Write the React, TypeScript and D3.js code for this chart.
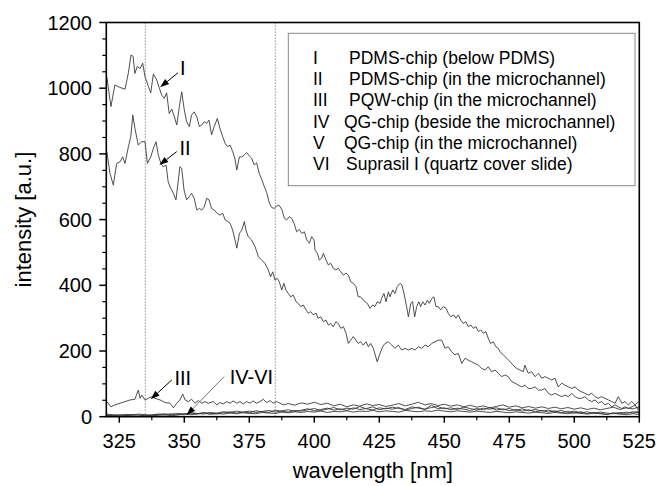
import React from "react";
import * as d3 from "d3";

// ---------- data ----------
const xTickLabels = ["325", "350", "375", "400", "425", "450", "475", "500", "525"];
const xTickValues = [325, 350, 375, 400, 425, 450, 475, 500, 525];
const xMinorValues = [337.5, 362.5, 387.5, 412.5, 437.5, 462.5, 487.5, 512.5];
const yTickValues = [0, 200, 400, 600, 800, 1000, 1200];
const yTickLabels = ["0", "200", "400", "600", "800", "1000", "1200"];
const yMinorValues = [50, 100, 150, 250, 300, 350, 450, 500, 550, 650, 700, 750, 850, 900, 950, 1050, 1100, 1150];
const markerLines = [335, 385];

const legendNumerals = ["I", "II", "III", "IV", "V", "VI"];
const legendTexts = [
  "PDMS-chip (below PDMS)",
  "PDMS-chip (in the microchannel)",
  "PQW-chip (in the microchannel)",
  "QG-chip (beside the microchannel)",
  "QG-chip (in the microchannel)",
  "Suprasil I (quartz cover slide)",
];

// curve I : [wavelength nm, intensity]
const curveI: [number, number][] = [
  [320.2, 1035], [321.8, 944], [323.3, 1010], [325.0, 1003], [327.2, 997], [328.5, 1047], [329.5, 1101], [330.3, 1097],
  [331.0, 1045], [331.9, 1066], [333.0, 1060], [334.0, 1076], [334.9, 1035], [336.2, 1005], [337.1, 986], [338.1, 1043],
  [339.4, 1025], [340.4, 1000], [341.3, 979], [342.3, 969], [343.2, 986], [344.2, 923], [345.2, 936], [346.2, 913],
  [347.1, 888], [348.1, 944], [349.0, 989], [350.0, 934], [350.9, 898], [351.9, 883], [352.8, 918], [353.8, 928],
  [354.8, 913], [355.8, 883], [356.7, 888], [357.7, 898], [358.6, 893], [359.5, 903], [360.5, 858], [361.5, 883],
  [362.7, 908], [363.7, 878], [364.8, 852], [365.7, 832], [366.7, 822], [367.6, 827], [368.6, 807], [369.5, 784],
  [370.2, 751], [371.2, 791], [372.1, 791], [373.1, 797], [374.0, 804], [375.0, 794], [375.9, 787], [376.9, 766],
  [377.8, 773], [378.8, 741], [379.9, 720], [380.8, 700], [381.7, 682], [382.7, 650], [383.6, 637], [384.5, 634],
  [385.5, 641], [386.4, 644], [387.5, 631], [388.5, 604], [389.4, 599], [390.4, 609], [391.3, 604], [392.3, 587],
  [393.2, 563], [394.2, 570], [395.2, 558], [396.2, 563], [397.1, 538], [398.1, 528], [399.0, 548], [399.9, 538],
  [400.3, 507], [401.2, 497], [401.9, 477], [402.8, 482], [403.5, 497], [404.5, 477], [405.4, 462], [406.3, 467],
  [407.3, 452], [408.3, 447], [409.2, 452], [410.2, 441], [411.2, 431], [412.2, 437], [413.1, 431], [414.0, 411],
  [415.0, 406], [416.0, 396], [416.9, 365], [417.8, 365], [418.6, 357], [419.5, 350], [420.4, 345], [421.4, 330],
  [422.5, 340], [423.3, 335], [424.2, 350], [425.3, 345], [425.9, 360], [426.8, 375], [427.6, 350], [428.5, 380],
  [429.1, 365], [430.2, 386], [431.0, 375], [431.9, 396], [433.0, 406], [433.7, 401], [434.5, 375], [435.5, 335],
  [436.2, 304], [437.1, 345], [437.8, 350], [438.6, 304], [439.4, 335], [440.2, 350], [440.9, 335], [441.7, 350],
  [442.6, 340], [443.5, 355], [444.2, 345], [445.2, 360], [446.0, 365], [446.8, 335], [447.7, 335], [448.6, 325],
  [449.6, 335], [450.7, 330], [451.5, 315], [452.5, 304], [453.5, 310], [454.5, 300], [455.4, 310], [456.3, 294],
  [457.3, 284], [458.3, 289], [459.2, 274], [460.2, 279], [461.2, 269], [462.2, 274], [463.1, 259], [464.0, 264],
  [465.0, 254], [466.0, 259], [466.9, 239], [467.8, 223], [468.8, 228], [469.9, 213], [470.8, 208], [471.4, 198],
  [472.7, 188], [474.0, 178], [475.3, 167], [476.5, 157], [477.8, 147], [479.1, 142], [480.4, 137], [481.0, 157],
  [482.3, 132], [483.6, 137], [484.9, 122], [486.2, 132], [487.5, 117], [488.7, 122], [490.0, 117], [491.3, 112],
  [492.6, 117], [493.8, 91], [495.2, 102], [496.4, 96], [497.7, 91], [499.0, 86], [500.3, 91], [501.5, 81],
  [502.8, 76], [504.1, 71], [505.4, 66], [506.7, 71], [508.0, 61], [509.2, 56], [510.5, 61], [511.8, 56],
  [513.1, 51], [514.4, 46], [515.7, 41], [516.9, 61], [518.3, 41], [519.5, 46], [520.8, 36], [522.1, 46],
  [523.4, 36], [524.6, 46],
];

// curve II
const curveII: [number, number][] = [
  [320.2, 807], [321.4, 741], [322.7, 705], [324.0, 771], [325.3, 776], [326.3, 791], [327.2, 771], [328.5, 822],
  [329.4, 852], [330.2, 918], [331.0, 878], [332.3, 827], [333.6, 837], [334.9, 837], [335.8, 771], [337.1, 791],
  [338.1, 817], [339.1, 837], [340.0, 797], [341.0, 771], [341.9, 761], [343.0, 766], [343.8, 715], [344.8, 695],
  [345.8, 680], [346.8, 660], [347.7, 720], [348.3, 761], [349.0, 756], [349.9, 690], [350.9, 660], [351.9, 670],
  [352.8, 680], [353.8, 665], [354.8, 629], [355.8, 634], [356.7, 629], [357.7, 639], [358.6, 665], [359.5, 660],
  [360.5, 634], [361.5, 629], [362.7, 619], [363.7, 614], [364.8, 619], [365.7, 599], [366.7, 594], [367.6, 589],
  [368.6, 568], [369.5, 538], [370.2, 513], [371.2, 558], [372.1, 568], [373.1, 594], [373.7, 568], [374.6, 548],
  [375.9, 538], [377.2, 518], [378.5, 487], [379.8, 477], [381.0, 467], [382.3, 447], [383.2, 426], [384.0, 441],
  [384.9, 416], [385.8, 421], [386.5, 411], [387.5, 386], [388.3, 406], [389.1, 386], [390.0, 375], [390.9, 365],
  [391.9, 370], [393.0, 350], [393.8, 345], [394.8, 335], [395.8, 340], [396.8, 325], [397.7, 315], [398.6, 320],
  [399.6, 310], [400.7, 315], [401.5, 300], [402.5, 304], [403.5, 289], [404.5, 294], [405.4, 279], [406.3, 284],
  [407.3, 274], [408.3, 289], [409.2, 284], [410.2, 269], [411.2, 274], [412.2, 254], [413.1, 223], [414.0, 233],
  [415.0, 244], [416.0, 233], [416.9, 223], [417.8, 228], [418.8, 218], [419.9, 228], [420.8, 213], [421.7, 223],
  [422.7, 208], [424.2, 167], [425.3, 193], [426.3, 213], [427.2, 223], [428.5, 228], [429.8, 218], [431.0, 208],
  [432.3, 218], [433.6, 203], [434.9, 208], [436.2, 203], [437.5, 208], [438.7, 203], [440.0, 213], [441.3, 208],
  [442.6, 218], [443.8, 213], [445.2, 223], [446.4, 228], [447.7, 233], [449.0, 233], [450.3, 208], [451.5, 213],
  [452.8, 198], [454.1, 188], [455.4, 193], [456.7, 162], [458.0, 178], [459.2, 172], [460.5, 167], [461.8, 162],
  [463.1, 157], [464.4, 147], [465.7, 142], [466.9, 152], [468.2, 137], [469.5, 142], [470.8, 132], [472.1, 122],
  [473.3, 127], [474.6, 122], [475.9, 107], [477.2, 102], [478.5, 96], [479.8, 91], [481.0, 96], [482.3, 86],
  [483.6, 86], [484.9, 91], [486.2, 81], [487.5, 81], [488.7, 86], [490.0, 71], [491.3, 66], [492.6, 71],
  [493.8, 66], [495.2, 61], [496.4, 66], [497.7, 61], [499.0, 71], [500.3, 61], [501.5, 56], [502.8, 56],
  [504.1, 61], [505.4, 51], [506.7, 46], [508.0, 51], [509.2, 41], [510.5, 46], [511.8, 36], [513.1, 41],
  [514.4, 30], [515.7, 36], [516.9, 30], [518.3, 25], [519.5, 30], [520.8, 25], [522.1, 30], [523.4, 36],
  [524.6, 20],
];

// curve III
const curveIII: [number, number][] = [
  [320.2, 46], [321.8, 30], [323.3, 36], [325.3, 41], [327.2, 46], [329.1, 51], [331.0, 53], [332.3, 81],
  [333.0, 56], [333.6, 66], [334.9, 51], [336.2, 56], [337.5, 61], [338.7, 56], [340.7, 51], [342.6, 43],
  [344.5, 41], [345.8, 27], [347.1, 41], [348.3, 51], [349.4, 69], [350.3, 51], [351.5, 46], [352.8, 53],
  [354.1, 41], [355.4, 49], [356.7, 41], [358.0, 46], [359.2, 41], [361.2, 46], [362.5, 36], [363.7, 43],
  [365.0, 39], [366.3, 46], [367.6, 41], [368.8, 48], [370.2, 41], [371.4, 46], [372.7, 39], [374.0, 46],
  [375.3, 41], [376.5, 48], [377.8, 41], [379.1, 46], [380.4, 53], [381.7, 43], [383.0, 49], [384.2, 41],
  [385.5, 46], [386.8, 41], [388.1, 36], [390, 40], [392.5, 35], [395, 42], [397.5, 38], [400, 44],
  [402.5, 37], [405, 41], [407.5, 33], [410, 38], [412.5, 30], [415, 36], [417.5, 32], [420, 39],
  [422.5, 34], [425, 37], [427.5, 31], [430, 35], [432.5, 40], [435, 33], [437.5, 38], [440, 44],
  [442.5, 36], [445, 40], [447.5, 34], [450, 38], [452.5, 32], [455, 36], [457.5, 30], [460, 35],
  [462.5, 29], [465, 33], [467.5, 27], [470, 31], [472.5, 36], [475, 29], [477.5, 33], [480, 27],
  [482.5, 31], [485, 26], [487.5, 30], [490, 25], [492.5, 29], [495, 24], [497.5, 28], [500, 23],
  [502.5, 27], [505, 22], [507.5, 26], [510, 21], [512.5, 25], [515, 29], [517.5, 22], [520, 27],
  [522.5, 24], [525, 30],
];

// shared wavelength grid for curves IV-VI
const lowWavelengths = [
  320, 322.5, 325, 327.5, 330, 332.5, 335, 337.5, 340, 342.5, 345, 347.5, 350, 352.5, 355, 357.5,
  360, 362.5, 365, 367.5, 370, 372.5, 375, 377.5, 380, 382.5, 385, 387.5, 390, 392.5, 395, 397.5,
  400, 402.5, 405, 407.5, 410, 412.5, 415, 417.5, 420, 422.5, 425, 427.5, 430, 432.5, 435, 437.5,
  440, 442.5, 445, 447.5, 450, 452.5, 455, 457.5, 460, 462.5, 465, 467.5, 470, 472.5, 475, 477.5,
  480, 482.5, 485, 487.5, 490, 492.5, 495, 497.5, 500, 502.5, 505, 507.5, 510, 512.5, 515, 517.5,
  520, 522.5, 525,
];
const curveIV = [
  5, 3, 6, 4, 7, 5, 3, 6, 8, 5, 9, 7, 6, 11, 9, 13,
  10, 8, 12, 15, 11, 14, 17, 13, 16, 19, 14, 18, 21, 16, 20, 24,
  18, 22, 26, 20, 24, 19, 27, 22, 25, 30, 21, 26, 23, 28, 20, 25,
  29, 22, 35, 24, 27, 21, 26, 23, 19, 25, 21, 28, 20, 24, 18, 22,
  17, 21, 15, 19, 14, 18, 12, 16, 11, 15, 9, 13, 10, 7, 12, 9,
  14, 11, 17,
];
const curveV = [
  8, 6, 4, 7, 5, 8, 6, 4, 7, 9, 6, 10, 8, 12, 10, 8,
  13, 11, 15, 12, 17, 14, 12, 18, 15, 13, 20, 16, 14, 19, 17, 21,
  25, 19, 23, 28, 21, 26, 23, 31, 24, 21, 27, 24, 29, 25, 22, 30,
  26, 23, 28, 31, 24, 27, 22, 29, 25, 20, 26, 23, 27, 21, 25, 19,
  24, 18, 22, 17, 20, 15, 19, 13, 17, 12, 15, 10, 14, 11, 9, 13,
  10, 15, 12,
];
const curveVI = [
  3, 5, 2, 4, 3, 2, 5, 3, 4, 6, 3, 5, 9, 6, 8, 11,
  7, 10, 8, 11, 9, 12, 10, 9, 13, 11, 10, 14, 12, 15, 13, 16,
  14, 17, 13, 16, 15, 18, 14, 17, 16, 19, 15, 18, 16, 14, 19, 17,
  15, 18, 16, 20, 17, 15, 18, 16, 14, 17, 15, 13, 16, 14, 12, 15,
  13, 11, 14, 12, 10, 13, 11, 9, 12, 10, 8, 11, 9, 7, 10, 8,
  6, 9, 7,
];

// annotation labels: [label, text x (nm), text y, arrow from x, from y, tip x, tip y]
const annotations: { label: string; tx: number; ty: number; fx: number; fy: number; ax: number; ay: number; gray?: boolean }[] = [
  { label: "I", tx: 349.4, ty: 1060, fx: 347.6, fy: 1047, ax: 340.7, ay: 1003 },
  { label: "II", tx: 350.3, ty: 817, fx: 347.1, fy: 807, ax: 340.4, ay: 766 },
  { label: "III", tx: 349.4, ty: 117, fx: 345.2, fy: 112, ax: 337.1, ay: 53 },
  { label: "IV-VI", tx: 375.8, ty: 122, fx: 365.3, fy: 122, ax: 350.9, ay: 5, gray: true },
];

// ---------- layout ----------
const W = 659;
const H = 486;
const L = 106.3, R = 639.3, T = 22.5, B = 416.7;
const FONT = "'Liberation Sans', Arial, Helvetica, sans-serif";

export default function App() {
  const x = d3.scaleLinear().domain([320, 525]).range([L, R]);
  const y = d3.scaleLinear().domain([0, 1200]).range([B, T]);
  const line = d3
    .line<[number, number]>()
    .x((d) => x(d[0]))
    .y((d) => y(d[1]));

  const lowSeries = [curveIV, curveV, curveVI].map((vals) =>
    vals.map((v, i) => [lowWavelengths[i], v] as [number, number])
  );
  const allSeries = [curveI, curveII, curveIII, ...lowSeries];

  const arrowHead = (fx: number, fy: number, ax: number, ay: number) => {
    const x1 = x(fx), y1 = y(fy), x2 = x(ax), y2 = y(ay);
    const ang = Math.atan2(y2 - y1, x2 - x1);
    const len = 9, half = 3.2;
    const bx = x2 - len * Math.cos(ang), by = y2 - len * Math.sin(ang);
    const px = -Math.sin(ang) * half, py = Math.cos(ang) * half;
    return {
      line: [x1, y1, bx, by],
      head: `M${x2},${y2}L${bx + px},${by + py}L${bx - px},${by - py}Z`,
    };
  };

  return (
    <svg
      width={W}
      height={H}
      style={{ position: "absolute", left: 0, top: 0, background: "#fff" }}
      fontFamily={FONT}
    >
      <rect x={0} y={0} width={W} height={H} fill="#fff" />
      <defs>
        <clipPath id="plotclip">
          <rect x={L} y={T} width={R - L} height={B - T} />
        </clipPath>
      </defs>

      {/* dotted marker lines */}
      {markerLines.map((m) => (
        <line
          key={m}
          x1={x(m)}
          x2={x(m)}
          y1={T}
          y2={B}
          stroke="#555"
          strokeWidth={0.8}
          strokeDasharray="1.2,1.8"
        />
      ))}

      {/* curves */}
      <g clipPath="url(#plotclip)">
        {allSeries.map((s, i) => (
          <path key={i} d={line(s) || ""} fill="none" stroke="#3a3a3a" strokeWidth={0.9} />
        ))}
      </g>

      {/* frame */}
      <rect x={L} y={T} width={R - L} height={B - T} fill="none" stroke="#000" strokeWidth={1.6} />

      {/* x ticks */}
      {xTickValues.map((v, i) => (
        <g key={"xt" + v}>
          <line x1={x(v)} x2={x(v)} y1={B} y2={B + 6} stroke="#000" strokeWidth={1.5} />
          <text x={x(v)} y={448} fontSize={20} textAnchor="middle" fill="#000">
            {xTickLabels[i]}
          </text>
        </g>
      ))}
      {xMinorValues.map((v) => (
        <line key={"xm" + v} x1={x(v)} x2={x(v)} y1={B} y2={B + 3.5} stroke="#000" strokeWidth={1.2} />
      ))}

      {/* y ticks */}
      {yTickValues.map((v, i) => (
        <g key={"yt" + v}>
          <line x1={L - 7} x2={L} y1={y(v)} y2={y(v)} stroke="#000" strokeWidth={1.5} />
          <text x={92} y={y(v) + 7} fontSize={20} textAnchor="end" fill="#000">
            {yTickLabels[i]}
          </text>
        </g>
      ))}
      {yMinorValues.map((v) => (
        <line key={"ym" + v} x1={L - 4} x2={L} y1={y(v)} y2={y(v)} stroke="#000" strokeWidth={1.2} />
      ))}

      {/* axis titles */}
      <text x={(L + R) / 2} y={478} fontSize={22} textAnchor="middle" fill="#000">
        wavelength [nm]
      </text>
      <text
        transform={`translate(31, ${(T + B) / 2}) rotate(-90)`}
        fontSize={22}
        textAnchor="middle"
        fill="#000"
      >
        intensity [a.u.]
      </text>

      {/* legend */}
      <rect x={288.3} y={33.3} width={346.7} height={152.4} fill="#fff" stroke="#888" strokeWidth={1} />
      {legendNumerals.map((n, i) => (
        <g key={"lg" + i}>
          <text x={313} y={63.6 + i * 21.3} fontSize={17.5} fill="#000">
            {n}
          </text>
          <text x={i < 3 ? 349 : i < 5 ? 344 : 346} y={63.6 + i * 21.3} fontSize={17.5} fill="#000">
            {legendTexts[i]}
          </text>
        </g>
      ))}

      {/* annotations */}
      {annotations.map((a) => {
        const ah = arrowHead(a.fx, a.fy, a.ax, a.ay);
        return (
          <g key={a.label}>
            <line
              x1={ah.line[0]}
              y1={ah.line[1]}
              x2={ah.line[2]}
              y2={ah.line[3]}
              stroke={a.gray ? "#777" : "#000"}
              strokeWidth={1}
            />
            <path d={ah.head} fill="#000" />
            <text x={x(a.tx)} y={y(a.ty) + 7} fontSize={20} textAnchor="middle" fill="#000">
              {a.label}
            </text>
          </g>
        );
      })}
    </svg>
  );
}
